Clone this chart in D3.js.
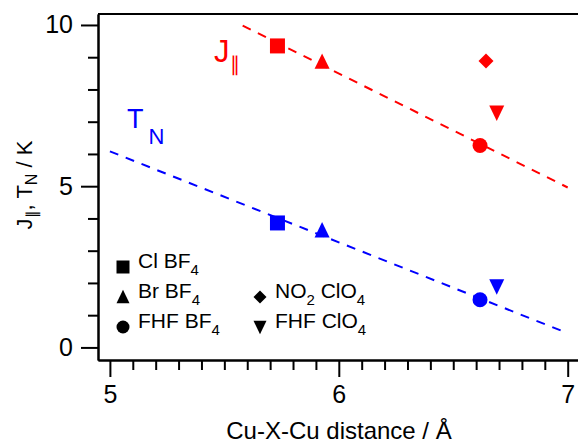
<!DOCTYPE html>
<html>
<head>
<meta charset="utf-8">
<script src="https://cdn.jsdelivr.net/npm/d3@7"></script>
<style>
  body { margin: 0; background: #fff; }
  svg { display: block; font-family: "Liberation Sans", Arial, sans-serif; }
</style>
</head>
<body>
<div id="chart"></div>
<script>
// Cu-X-Cu 距离 (Å) 与 J∥ / T_N (K)
const compounds = ['Cl BF_4', 'Br BF_4', 'FHF BF_4', 'NO_2 ClO_4', 'FHF ClO_4']
const shapes = ['square', 'up', 'circle', 'diamond', 'down']
const distance = [5.732, 5.927, 6.617, 6.643, 6.690]
const jPar = [9.35, 8.86, 6.26, 8.88, 7.28]
const tN = [3.86, 3.63, 1.48, null, 1.89]

// 拟合直线的两个端点
const fitJX = [5.58, 7.0]
const fitJY = [9.98, 4.96]
const fitTX = [5.0, 7.0]
const fitTY = [6.08, 0.44]

const xTicks = [5, 6, 7]
const yTicks = [0, 5, 10]

const width = 578
const height = 443

let svg = d3.select('#chart').append('svg')
  .attr('width', width)
  .attr('height', height)

let x = d3.scaleLinear().domain([4.948, 7.045]).range([98, 578])
let y = d3.scaleLinear().domain([-0.39, 10.34]).range([360, 14])

/* ----- 坐标轴 ----- */
let yMinor = d3.range(0, 11).filter(d => yTicks.indexOf(d) < 0)
let xMinor = d3.range(50, 71).map(d => d / 10).filter(d => xTicks.indexOf(d) < 0)

svg.append('g')
  .attr('transform', 'translate(98,0)')
  .call(d3.axisLeft(y).tickValues(yMinor).tickSize(10).tickSizeOuter(0).tickFormat(''))
svg.append('g')
  .attr('class', 'major')
  .attr('transform', 'translate(98,0)')
  .call(d3.axisLeft(y).tickValues(yTicks).tickSize(17).tickSizeOuter(0).tickPadding(8).tickFormat(d3.format('d')))

svg.append('g')
  .attr('transform', 'translate(0,360)')
  .call(d3.axisBottom(x).tickValues(xMinor).tickSize(10).tickSizeOuter(0).tickFormat(''))
svg.append('g')
  .attr('class', 'major')
  .attr('transform', 'translate(0,360)')
  .call(d3.axisBottom(x).tickValues(xTicks).tickSize(17).tickSizeOuter(0).tickPadding(8).tickFormat(d3.format('d')))

// 顶部边框
svg.append('line')
  .attr('x1', 98).attr('x2', 578)
  .attr('y1', 14).attr('y2', 14)
  .attr('stroke', '#000').attr('stroke-width', 2)

svg.selectAll('.domain, .tick line').attr('stroke', '#000').attr('stroke-width', 2)
svg.selectAll('.major text').attr('font-size', 25).attr('fill', '#000')
  .attr('font-family', '"Liberation Sans", Arial, sans-serif')

// 轴标题
svg.append('text')
  .attr('x', 339).attr('y', 439)
  .attr('text-anchor', 'middle')
  .attr('font-size', 24)
  .text('Cu-X-Cu distance / Å')

let yLabel = svg.append('text')
  .attr('transform', 'translate(32,185) rotate(-90)')
  .attr('text-anchor', 'middle')
  .attr('font-size', 22)
yLabel.append('tspan').text('J')
yLabel.append('tspan').attr('font-size', 15).attr('dy', 5).text('∥')
yLabel.append('tspan').attr('dy', -5).text(', T')
yLabel.append('tspan').attr('font-size', 16).attr('dy', 5).text('N')
yLabel.append('tspan').attr('dy', -5).text(' / K')

/* ----- 拟合线 ----- */
let line = d3.line().x(d => x(d[0])).y(d => y(d[1]))
svg.append('path')
  .attr('d', line(d3.zip(fitJX, fitJY)))
  .attr('fill', 'none').attr('stroke', '#ff0000')
  .attr('stroke-width', 2).attr('stroke-dasharray', '9,8')
svg.append('path')
  .attr('d', line(d3.zip(fitTX, fitTY)))
  .attr('fill', 'none').attr('stroke', '#0000ff')
  .attr('stroke-width', 2).attr('stroke-dasharray', '9,8')

/* ----- 点的形状 ----- */
function shape (name) {
  return {
    draw: function (ctx, size) {
      let r = Math.sqrt(size) / 2
      if (name === 'square') {
        ctx.rect(-r, -r, 2 * r, 2 * r)
      } else if (name === 'up') {
        ctx.moveTo(0, -r * 1.1); ctx.lineTo(r, r * 0.95); ctx.lineTo(-r, r * 0.95); ctx.closePath()
      } else if (name === 'down') {
        ctx.moveTo(0, r * 1.1); ctx.lineTo(r, -r * 0.95); ctx.lineTo(-r, -r * 0.95); ctx.closePath()
      } else if (name === 'diamond') {
        ctx.moveTo(0, -r); ctx.lineTo(r, 0); ctx.lineTo(0, r); ctx.lineTo(-r, 0); ctx.closePath()
      } else {
        ctx.moveTo(r, 0); ctx.arc(0, 0, r, 0, 2 * Math.PI)
      }
    }
  }
}

let sym = (i, s) => d3.symbol().type(shape(shapes[i])).size(s * s)()

// J∥ 红色
distance.forEach((d, i) => {
  svg.append('path')
    .attr('transform', 'translate(' + x(d) + ',' + y(jPar[i]) + ')')
    .attr('d', sym(i, 15))
    .attr('fill', '#ff0000')
})
// T_N 蓝色
distance.forEach((d, i) => {
  if (tN[i] === null) return
  svg.append('path')
    .attr('transform', 'translate(' + x(d) + ',' + y(tN[i]) + ')')
    .attr('d', sym(i, 15))
    .attr('fill', '#0000ff')
})

/* ----- 系列标签 ----- */
let jLab = svg.append('text').attr('x', 214).attr('y', 62).attr('fill', '#ff0000').attr('font-size', 31)
jLab.append('tspan').text('J')
jLab.append('tspan').attr('font-size', 20).attr('dy', 9).text('∥')

let tLab = svg.append('text').attr('x', 127).attr('y', 128).attr('fill', '#0000ff').attr('font-size', 27)
tLab.append('tspan').text('T')
tLab.append('tspan').attr('font-size', 22).attr('dx', 5).attr('dy', 16).text('N')

/* ----- 图例 ----- */
const legendCol = [0, 0, 0, 1, 1]
const legendRow = [0, 1, 2, 1, 2]
compounds.forEach((name, i) => {
  let cx = legendCol[i] ? 260 : 123
  let cy = 267 + legendRow[i] * 30
  svg.append('path')
    .attr('transform', 'translate(' + cx + ',' + cy + ')')
    .attr('d', sym(i, 13))
    .attr('fill', '#000')
  let t = svg.append('text')
    .attr('x', cx + 15)
    .attr('y', cy + 8)
    .attr('font-size', 21)
  name.split(/(_\d)/).forEach(part => {
    if (!part) return
    if (part[0] === '_') {
      t.append('tspan').attr('font-size', 15).attr('dy', 7).text(part.slice(1))
    } else {
      t.append('tspan').attr('dy', t.selectAll('tspan').size() ? -7 : 0).text(part)
    }
  })
})
</script>
</body>
</html>
